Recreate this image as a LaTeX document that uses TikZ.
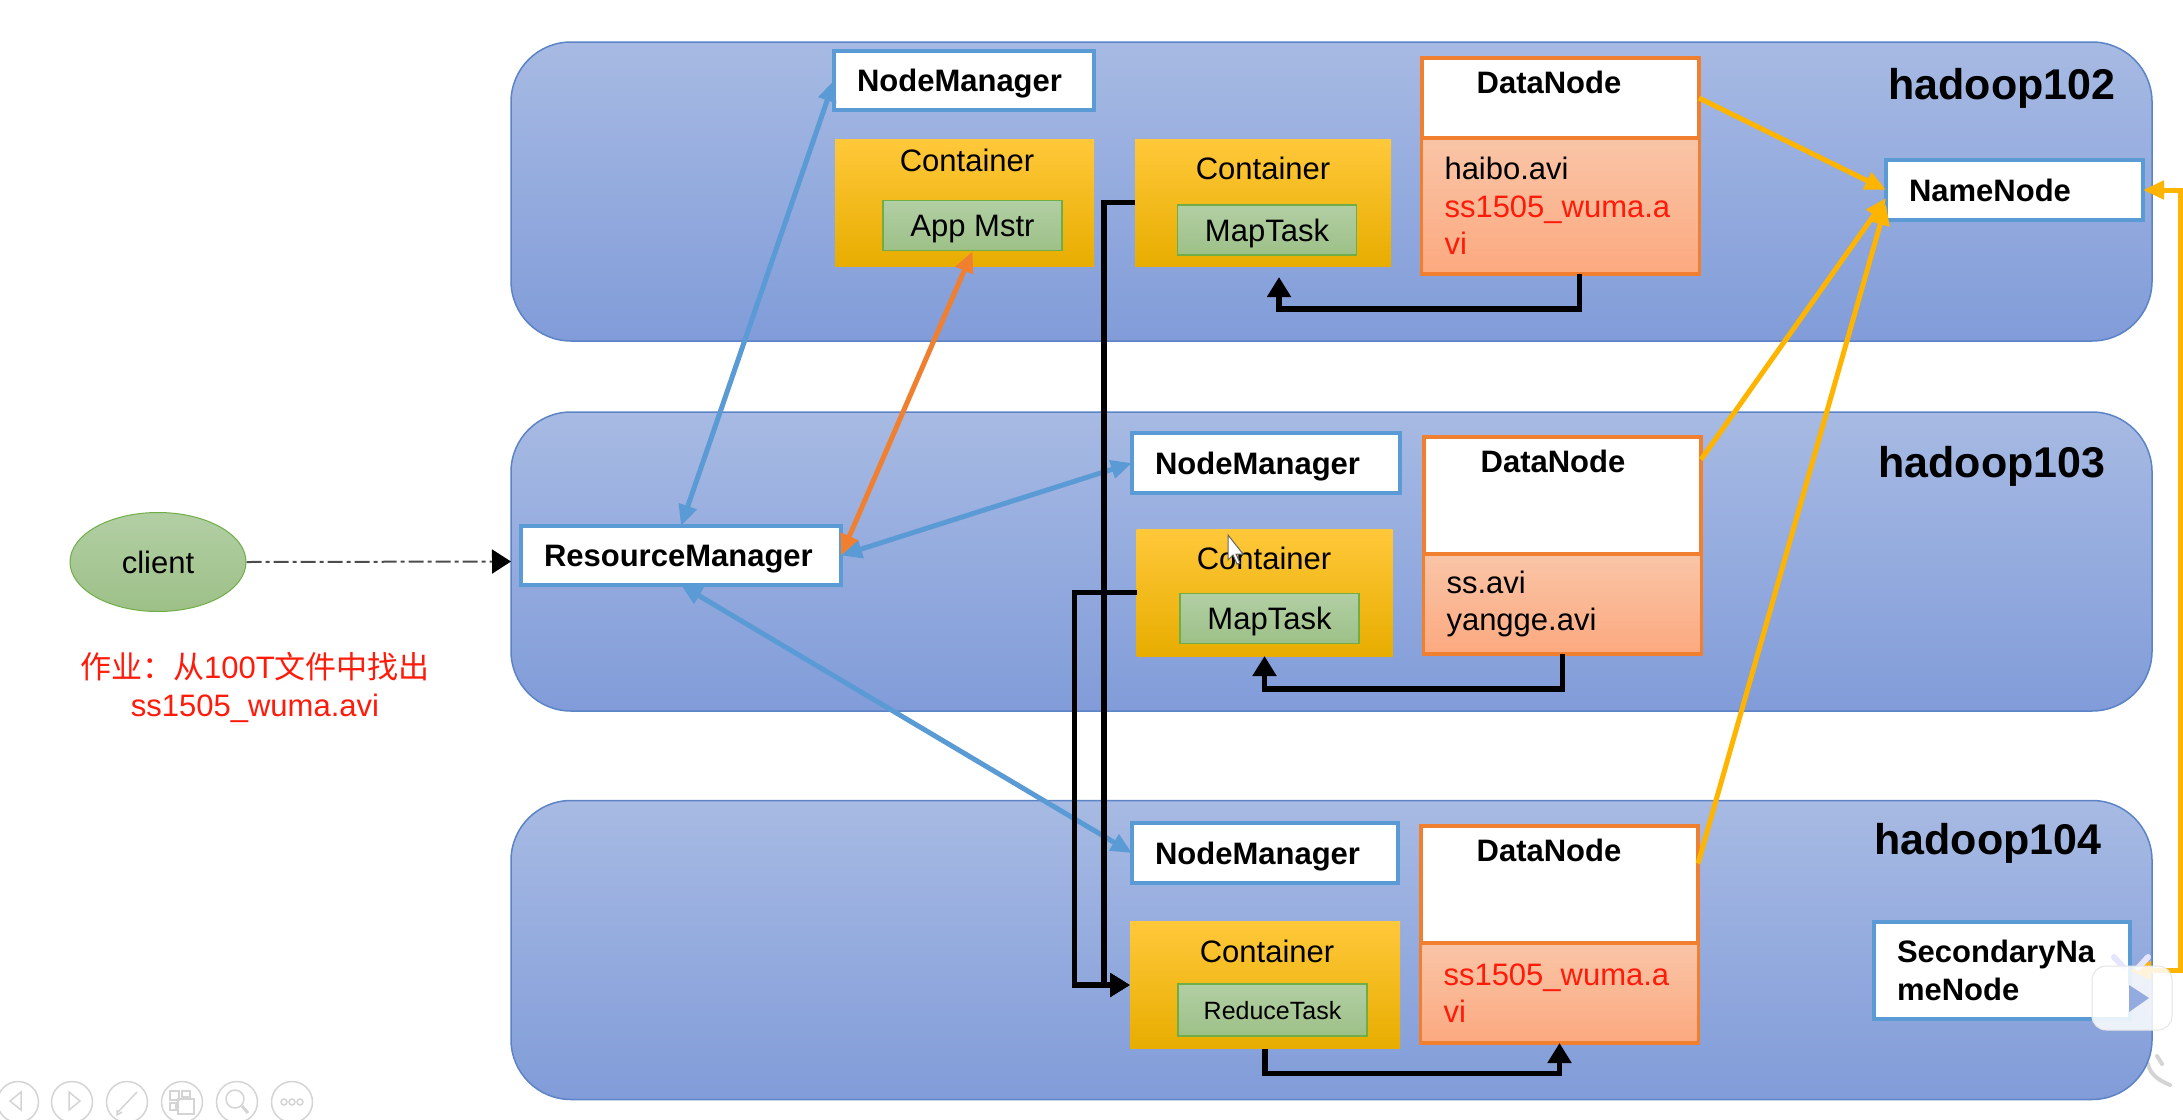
\documentclass[tikz,border=0pt]{standalone}
\usepackage{fontspec}
\setmainfont{Liberation Sans}
\newfontfamily\cjkfont{Noto Sans CJK SC}
\usetikzlibrary{arrows.meta, shapes.geometric}

\definecolor{hostline}{HTML}{5B83C6}
\definecolor{hosttop}{HTML}{A7BAE3}
\definecolor{hostbot}{HTML}{819CD9}
\definecolor{boxblue}{HTML}{5B9BD5}
\definecolor{boxorange}{HTML}{F0802F}
\definecolor{arrowyellow}{HTML}{FFB400}
\definecolor{taskline}{HTML}{70AD47}
\definecolor{tasktop}{HTML}{B2CFA4}
\definecolor{taskbot}{HTML}{9DC087}
\definecolor{salmontop}{HTML}{F9C5A7}
\definecolor{salmonbot}{HTML}{FCA97F}
\definecolor{conttop}{HTML}{FFC83A}
\definecolor{contmid}{HTML}{FFC000}
\definecolor{contbot}{HTML}{E8AD00}
\definecolor{redtext}{HTML}{FF1A0A}
\definecolor{toolgray}{HTML}{D4D4D4}

\tikzset{
    boldtext/.style={font=\fontsize{31}{37.6}\selectfont\bfseries},
    plaintext/.style={font=\fontsize{31}{37.6}\selectfont},
    hostname/.style={font=\fontsize{43}{50}\selectfont\bfseries, text depth=0pt},
    hostbox/.style={draw=hostline, line width=1.5pt, rounded corners=60pt, top color=hosttop, bottom color=hostbot, minimum width=1641pt, minimum height=299pt, outer sep=0pt},
    whitebox/.style={draw=boxblue, line width=4pt, fill=white, inner xsep=23pt, inner ysep=0pt, align=left, outer sep=0pt, boldtext},
    managerbox/.style={whitebox, text depth=0pt},
    containerbox/.style={draw=none, top color=conttop, middle color=contmid, bottom color=contbot, minimum width=256pt, minimum height=127pt, outer sep=0pt},
    taskbox/.style={draw=taskline, line width=1.5pt, top color=tasktop, bottom color=taskbot, minimum width=179pt, minimum height=50pt, inner sep=0pt, text depth=0pt, plaintext},
    datatop/.style={draw=boxorange, line width=4pt, fill=white, minimum width=277pt, minimum height=117pt, outer sep=0pt},
    databox/.style={draw=boxorange, line width=3.5pt, top color=salmontop, bottom color=salmonbot, text width=232pt, align=left, inner xsep=23pt, inner ysep=0pt, minimum height=100pt, outer sep=0pt, plaintext},
    bluearrow/.style={draw=boxblue, line width=5pt, {Triangle[length=21pt,width=18pt]}-{Triangle[length=21pt,width=18pt]}},
    orangearrow/.style={draw=boxorange, line width=5pt, {Triangle[length=21pt,width=18pt]}-{Triangle[length=21pt,width=18pt]}},
    yellowarrow/.style={draw=arrowyellow, line width=5pt, -{Triangle[length=21pt,width=18pt]}},
    blackarrow/.style={draw=black, line width=5.5pt, -{Triangle[length=20pt,width=23pt]}},
    tool/.style={draw=toolgray, line width=1.5pt},
}

\begin{document}
\begin{tikzpicture}[x=1pt, y=-1pt]
            \useasboundingbox (0,0) rectangle (2183,1119);

            % Stroke left of the lower right corner
            \draw[toolgray, line width=4pt, line cap=round] (2157,1056) -- (2162,1064);
            \draw[toolgray, line width=4pt, line cap=round] (2148,1064) .. controls (2150,1074) and (2158,1080) .. (2170,1085);

            % Hosts
            \node[hostbox] (host102) at (1331.5,191.5) {};
            \node[hostbox] (host103) at (1331.5,561.5) {};
            \node[hostbox] (host104) at (1331.5,950) {};
            \node[hostname] (name102) at (2002,84) {hadoop102};
            \node[hostname] (name103) at (1992,462) {hadoop103};
            \node[hostname] (name104) at (1988,839) {hadoop104};

            % Client and the job note
            \node[ellipse, draw=taskline, line width=1pt, top color=tasktop, bottom color=taskbot, minimum width=176pt, minimum height=99pt, inner sep=0pt, plaintext] (client) at (158,562) {client};
            \node[plaintext, text=redtext, align=center] (note) at (255,687.5) {{\cjkfont 作业：从}100T{\cjkfont 文件中找出}\\ss1505\_wuma.avi};

            % ResourceManager and the name nodes
            \node[managerbox, text width=274pt, minimum height=59pt] (rm) at (681,555.5) {ResourceManager};
            \node[whitebox, text width=211pt, minimum height=60pt] (nn) at (2014.5,190) {NameNode};
            \node[whitebox, text width=210pt, minimum height=97pt] (snn) at (2002,970.5) {SecondaryNa\\meNode};

            % hadoop102
            \node[managerbox, text width=214pt, minimum height=59pt] (nm102) at (964,80.5) {NodeManager};
            \node[containerbox, minimum width=259pt] (mstrbox) at (964.5,202.5) {};
            \node[plaintext] (mstrname) at (967,160) {Container};
            \node[taskbox] (mstr) at (972.5,225.5) {App Mstr};
            \node[containerbox] (cont102) at (1263,202.5) {};
            \node[plaintext] (contname102) at (1263,168) {Container};
            \node[taskbox] (map102) at (1267,230) {MapTask};
            \node[datatop, minimum height=80pt] (dn102top) at (1560.5,98) {};
            \node[boldtext] (dnname102) at (1549,82) {DataNode};
            \node[databox, minimum height=136pt] (dn102) at (1560.5,206) {haibo.avi\\\textcolor{redtext}{ss1505\_wuma.a}\\\textcolor{redtext}{vi}};

            % hadoop103
            \node[managerbox, text width=222pt, minimum height=60pt] (nm103) at (1266,463) {NodeManager};
            \node[containerbox] (cont103) at (1264.5,592.5) {};
            \node[plaintext] (contname103) at (1264,558) {Container};
            \node[taskbox] (map103) at (1269.5,618.5) {MapTask};
            \node[datatop] (dn103top) at (1562.5,495.5) {};
            \node[boldtext] (dnname103) at (1553,461) {DataNode};
            \node[databox] (dn103) at (1562.5,604) {ss.avi\\yangge.avi};

            % hadoop104
            \node[managerbox, text width=220pt, minimum height=60pt] (nm104) at (1265,853) {NodeManager};
            \node[containerbox, minimum width=270pt] (cont104) at (1265,985) {};
            \node[plaintext] (contname104) at (1267,951) {Container};
            \node[taskbox, minimum width=189pt, minimum height=52pt, font=\fontsize{25}{30}\selectfont] (reduce) at (1272.5,1010) {ReduceTask};
            \node[datatop] (dn104top) at (1559.5,884.5) {};
            \node[boldtext] (dnname104) at (1549,850) {DataNode};
            \node[databox] (dn104) at (1559.5,993) {\textcolor{redtext}{ss1505\_wuma.a}\\\textcolor{redtext}{vi}};

            % ResourceManager talks to the node managers
            \draw[bluearrow] (rm.north) -- (nm102.west);
            \draw[bluearrow] (rm.east) -- (nm103.west);
            \draw[bluearrow] (rm.south) -- (nm104.west);
            \draw[orangearrow] (rm.east) -- (mstr.south);

            % Client submits the job
            \draw[line width=2pt, draw=black!70, dash pattern=on 15pt off 4pt on 4pt off 4pt, -{Triangle[length=19pt,width=24pt,color=black]}] (client.east) -- (host103.west);

            % Data nodes report to the name node
            \draw[yellowarrow] (dn102top.east) -- (nn.west);
            \draw[yellowarrow] ([yshift=36pt]dn103top.east) -- ([yshift=-8pt]nn.west);
            \draw[yellowarrow] ([yshift=21pt]dn104top.east) -- ([yshift=-14pt]nn.west);
            \draw[yellowarrow, {Triangle[length=21pt,width=18pt]}-{Triangle[length=21pt,width=18pt]}] (snn.east) -- ++(50,0) |- (nn.east);

            % Reads and the shuffle
            \draw[blackarrow] ([xshift=19pt]dn102.south) -- ++(0,35) -| ([xshift=16pt,yshift=-11pt]cont102.south);
            \draw[blackarrow] (dn103.south) -- ++(0,35) -| (cont103.south);
            \draw[blackarrow] (cont104.south) -- ++(0,25) -| (dn104.south);
            \draw[blackarrow] (cont102.west) -- ++(-31,0) |- (cont104.west);
            \draw[blackarrow] (cont103.west) -- ++(-62,0) |- (cont104.west);

            % Mouse pointer
            \draw[black!60, fill=white, line width=1pt] (1228,535) -- (1228,560) -- (1233,555) -- (1237,564) -- (1240,563) -- (1236,554) -- (1243,554) -- cycle;

            % Slide show buttons
            \foreach \x in {18,72,127,182,237,292} {
                \draw[tool] (\x,1102) circle (20.5);
            }
            \draw[tool] (21,1092) -- (21,1110) -- (10,1101) -- cycle;
            \draw[tool] (69,1092) -- (69,1110) -- (80,1101) -- cycle;
            \draw[tool] (118,1112) -- (137,1092);
            \draw[tool] (122,1112) -- (117,1115) -- (117,1110);
            \draw[tool] (170,1091) rectangle (179,1100);
            \draw[tool] (182,1091) rectangle (190,1097);
            \draw[tool] (170,1103) rectangle (176,1110);
            \draw[tool] (178,1099) rectangle (194,1114);
            \draw[tool] (235,1099) circle (9);
            \draw[tool, line width=3pt] (242,1106) -- (248,1113);
            \draw[tool] (284,1102) circle (3);
            \draw[tool] (292,1102) circle (3);
            \draw[tool] (300,1102) circle (3);

            % Video badge on top of the last arrow
            \draw[white!90!blue, line width=6pt, line cap=round] (2114,957) -- (2124,968);
            \draw[white!90!blue, line width=6pt, line cap=round] (2148,957) -- (2138,968);
            \draw[black!10, fill=white, fill opacity=0.85, line width=1pt, rounded corners=14pt] (2092,966) rectangle (2172,1030);
            \fill[white, rounded corners=3pt] (2120,983) rectangle (2129,1013);
            \fill[hostbot!85!white] (2129,985) -- (2149,998) -- (2129,1012) -- cycle;
\end{tikzpicture}
\end{document}
